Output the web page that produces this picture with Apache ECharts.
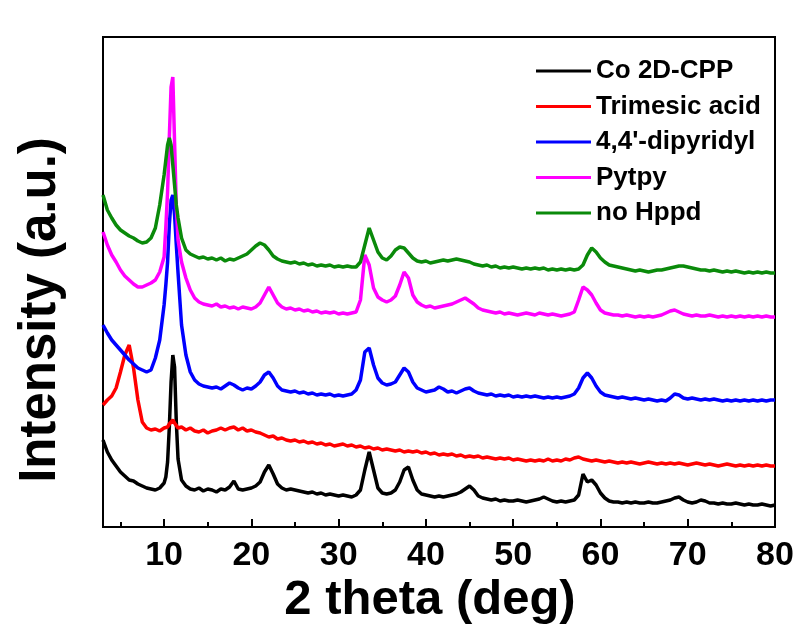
<!DOCTYPE html>
<html>
<head>
<meta charset="utf-8">
<script src="https://cdn.jsdelivr.net/npm/echarts@6/dist/echarts.min.js"></script>
<style>
html,body{margin:0;padding:0;background:#fff;}
#chart{width:802px;height:635px;}
</style>
</head>
<body>
<div id="chart"></div>
<script>
// 2 theta positions (deg)
const twoTheta = [3,3.5,4,4.5,5,5.5,6,6.5,7,7.5,8,8.5,9,9.5,
 10,10.2,10.4,10.6,10.8,11,11.2,11.4,11.6,
 12,12.5,13,13.5,14,14.5,15,15.5,16,16.5,
 17,17.5,18,18.5,19,19.5,20,20.5,21,21.5,
 22,22.5,23,23.5,24,24.5,25,25.5,26,26.5,
 27,27.5,28,28.5,29,29.5,30,30.5,31,31.5,
 32,32.5,33,33.5,34,34.5,35,35.5,36,36.5,
 37,37.5,38,38.5,39,39.5,40,40.5,41,41.5,
 42,42.5,43,43.5,44,44.5,45,45.5,46,46.5,
 47,47.5,48,48.5,49,49.5,50,50.5,51,51.5,
 52,52.5,53,53.5,54,54.5,55,55.5,56,56.5,
 57,57.5,58,58.5,59,59.5,60,60.5,61,61.5,
 62,62.5,63,63.5,64,64.5,65,65.5,66,66.5,
 67,67.5,68,68.5,69,69.5,70,70.5,71,71.5,
 72,72.5,73,73.5,74,74.5,75,75.5,76,76.5,
 77,77.5,78,78.5,79,79.5,80];

// Intensities (a.u., stacked offsets as in the figure)
const coCPP = [87,75,67,61,55,51,47,46,43,41,39,38,37,39,
 44,50,65,100,145,172,160,105,68,
 47,41,38,37,39,36,38,37,35,38,
 37,40,46,38,37,38,39,41,45,55,
 62,53,43,39,37,38,37,36,35,34,
 35,33,34,32,33,32,31,32,31,30,
 32,37,57,75,57,39,34,33,34,37,
 45,57,60,47,37,33,32,31,30,31,
 30,31,32,33,35,38,41,37,31,29,
 28,27,28,26,27,26,26,27,26,25,
 26,27,28,30,28,26,25,26,25,26,
 27,32,53,45,47,42,34,29,26,25,
 25,24,25,24,25,24,24,25,24,24,
 25,26,27,29,30,27,25,24,25,27,
 26,24,24,23,24,23,23,24,23,22,
 23,22,22,23,22,21,22];

const trimesic = [122,127,131,139,155,172,182,159,127,105,99,97,98,96,
 99,97,100,103,105,107,104,102,99,
 100,97,99,96,95,97,94,96,97,99,
 97,99,100,97,99,96,97,95,94,92,
 90,91,88,89,87,86,87,85,86,84,
 85,83,84,82,83,81,82,83,81,82,
 80,81,79,80,78,79,77,78,77,76,
 77,75,76,75,76,74,75,73,74,72,
 73,72,73,71,72,70,71,70,71,69,
 70,69,68,69,68,69,67,68,67,66,
 67,66,67,66,68,66,67,66,68,67,
 69,70,68,67,66,67,66,65,66,65,
 64,65,64,65,64,63,64,65,64,63,
 64,63,64,63,64,63,62,63,64,63,
 62,63,62,61,62,63,62,61,62,61,
 62,61,62,61,62,61,61];

const dipyridyl = [202,194,187,182,177,172,167,163,159,157,155,157,169,187,
 222,242,265,302,327,332,312,282,254,
 202,172,155,147,143,141,140,139,140,138,
 141,144,142,139,137,139,138,141,145,152,
 155,149,141,137,136,135,136,134,135,133,
 134,132,133,132,133,131,132,131,132,133,
 137,147,175,179,162,149,144,142,143,145,
 152,159,155,145,139,137,135,136,137,140,
 138,135,136,134,136,138,139,136,134,133,
 132,133,131,132,131,132,130,131,130,131,
 130,131,130,129,130,129,130,129,130,131,
 133,139,149,154,149,141,135,132,131,130,
 129,130,129,128,129,128,127,128,127,126,
 127,126,129,133,132,129,128,129,128,127,
 128,127,128,127,126,127,126,127,126,127,
 126,127,126,127,126,127,127];

const pytpy = [295,282,272,265,257,251,247,243,240,240,242,244,247,255,
 270,300,335,390,440,450,385,320,287,
 265,249,237,229,225,223,222,221,223,220,
 221,219,220,218,220,219,218,220,224,232,
 240,232,224,220,218,219,217,218,216,217,
 215,216,214,215,214,215,213,214,213,214,
 215,227,272,262,239,230,227,225,227,231,
 242,255,249,232,225,222,220,221,219,220,
 221,222,223,225,227,229,226,223,219,217,
 216,215,214,215,213,214,213,212,213,214,
 213,212,214,213,212,213,212,211,212,213,
 215,227,240,237,232,224,217,214,213,212,
 212,211,212,211,210,211,210,211,210,211,
 212,214,216,217,215,213,212,211,212,211,
 211,212,211,210,211,210,211,210,211,210,
 211,210,211,210,211,210,210];

const noHppd = [332,317,309,302,297,294,291,289,286,284,285,289,299,322,
 352,367,382,389,382,362,342,322,309,
 289,277,273,271,269,270,268,269,267,269,
 266,268,267,269,271,273,277,281,284,282,
 277,271,268,266,265,264,265,263,264,262,
 263,261,262,261,262,260,261,260,261,260,
 260,265,282,299,287,275,269,267,271,277,
 280,279,274,269,266,265,266,264,265,266,
 267,266,267,268,267,266,265,263,262,261,
 262,260,261,259,260,259,260,259,258,259,
 258,259,258,259,257,258,257,258,257,258,
 257,258,262,272,279,275,269,265,262,261,
 260,259,258,257,256,257,256,255,256,257,
 257,258,259,260,261,261,260,259,258,257,
 257,256,257,256,255,256,255,256,255,254,
 255,254,255,254,255,254,254];

const seriesNames = ['Co 2D-CPP','Trimesic acid',"4,4'-dipyridyl",'Pytpy','no Hppd'];
const seriesValues = [coCPP, trimesic, dipyridyl, pytpy, noHppd];
const seriesColors = ['#000000','#ff0000','#0000ff','#ff00ff','#0a8a0a'];
const majorTicks = [10,20,30,40,50,60,70,80];
const minorTicks = [5,15,25,35,45,55,65,75];

const FONT = 'Liberation Sans, Arial, sans-serif';
const chart = echarts.init(document.getElementById('chart'), null, {renderer:'canvas'});

const option = {
  backgroundColor: '#ffffff',
  animation: false,
  grid: {left:103, top:37, width:672, height:490, show:true, borderColor:'#000', borderWidth:2, backgroundColor:'transparent'},
  legend: {
    orient:'vertical', left:531, top:53, icon:'rect', itemWidth:55, itemHeight:3, itemGap:9.5,
    textStyle:{fontFamily:FONT, fontWeight:'bold', fontSize:26, color:'#000', lineHeight:24}
  },
  xAxis: [{
    type:'value', min:3, max:80, position:'bottom',
    axisLine:{show:true, onZero:false, lineStyle:{color:'#000', width:2}},
    axisTick:{show:true, inside:true, length:8, customValues:majorTicks, lineStyle:{color:'#000', width:2}},
    axisLabel:{show:true, customValues:majorTicks, margin:12, fontFamily:FONT, fontWeight:'bold', fontSize:34, color:'#000'},
    splitLine:{show:false}
  },{
    type:'value', min:3, max:80, position:'bottom', gridIndex:0,
    axisLine:{show:false},
    axisTick:{show:true, inside:true, length:5, customValues:minorTicks, lineStyle:{color:'#000', width:2}},
    axisLabel:{show:false},
    splitLine:{show:false}
  }],
  yAxis: {
    type:'value', min:0, max:490,
    axisLine:{show:true, onZero:false, lineStyle:{color:'#000', width:2}},
    axisTick:{show:false}, axisLabel:{show:false}, splitLine:{show:false}
  },
  graphic: [
    {type:'text', x:41, y:310, rotation:Math.PI/2,
     style:{text:'Intensity (a.u.)', fontFamily:FONT, fontWeight:'bold', fontSize:51, fill:'#000', align:'center', verticalAlign:'middle'}},
    {type:'text', x:430, y:600,
     style:{text:'2 theta (deg)', fontFamily:FONT, fontWeight:'bold', fontSize:49, fill:'#000', align:'center', verticalAlign:'middle'}}
  ],
  series: seriesNames.map((name, k) => ({
    name: name, type:'line', xAxisIndex:0, symbol:'none', showSymbol:false,
    color: seriesColors[k],
    lineStyle:{width:3.5, color:seriesColors[k]},
    data: twoTheta.map((x, i) => [x, seriesValues[k][i]])
  }))
};
chart.setOption(option);
</script>
</body>
</html>
